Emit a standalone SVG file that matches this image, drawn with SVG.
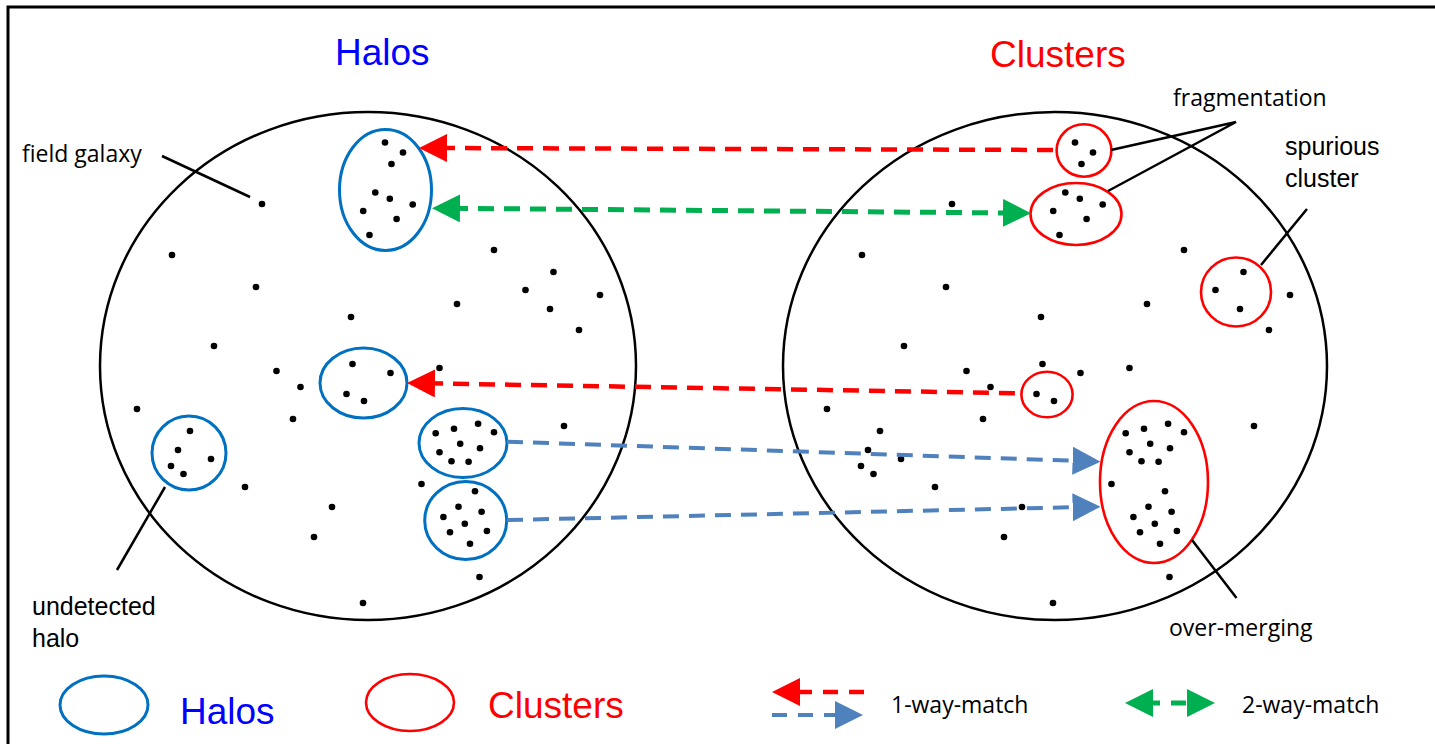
<svg xmlns="http://www.w3.org/2000/svg" xmlns:xlink="http://www.w3.org/1999/xlink" width="1435" height="744" viewBox="0 0 1435 744">
<style>
.frame{stroke:#000;stroke-width:3;fill:none}
.big{fill:none;stroke:#000;stroke-width:2.5}
.halo{fill:none;stroke:#0070C0;stroke-width:3}
.clus{fill:none;stroke:#FF0000;stroke-width:2.6}
.lead{fill:none;stroke:#000;stroke-width:2.5}
.title{font-family:"Liberation Sans",Arial,sans-serif;font-size:37px}
.lab{font-family:"Liberation Sans",Arial,sans-serif;font-size:25px;fill:#000}
.cal{font-family:"Open Sans","Liberation Sans",sans-serif;font-size:23px;fill:#000}
.dr{stroke:#FF0000;stroke-width:4.5;stroke-dasharray:16 10;fill:none}
.dg{stroke:#00B050;stroke-width:5;stroke-dasharray:16 10;fill:none}
.db{stroke:#4F81BD;stroke-width:4;stroke-dasharray:16 10;fill:none}
.ldr{stroke:#FF0000;stroke-width:4.5;stroke-dasharray:15 11;fill:none}
.ldb{stroke:#4F81BD;stroke-width:4;stroke-dasharray:15 11;fill:none}
.ldg{stroke:#00B050;stroke-width:5;stroke-dasharray:15 11;fill:none}
#field circle{r:3.3px}
</style>
<defs>
<marker id="ahR" markerUnits="userSpaceOnUse" markerWidth="28" markerHeight="28" viewBox="0 0 28 28" refX="8" refY="14" orient="auto-start-reverse"><path d="M0,0 L28,14 L0,28 Z" fill="#FF0000"/></marker>
<marker id="ahG" markerUnits="userSpaceOnUse" markerWidth="28" markerHeight="28" viewBox="0 0 28 28" refX="8" refY="14" orient="auto-start-reverse"><path d="M0,0 L28,14 L0,28 Z" fill="#00B050"/></marker>
<marker id="ahB" markerUnits="userSpaceOnUse" markerWidth="28" markerHeight="28" viewBox="0 0 28 28" refX="8" refY="14" orient="auto-start-reverse"><path d="M0,0 L28,14 L0,28 Z" fill="#4F81BD"/></marker>
<g id="field" fill="#000">
<circle cx="262" cy="204" r="3.3"/><circle cx="172" cy="255" r="3.3"/><circle cx="256" cy="287" r="3.3"/><circle cx="351" cy="317" r="3.3"/>
<circle cx="457" cy="304" r="3.3"/><circle cx="494" cy="250" r="3.3"/><circle cx="553.5" cy="272" r="3.3"/><circle cx="525.5" cy="290" r="3.3"/>
<circle cx="550" cy="309" r="3.3"/><circle cx="600" cy="295" r="3.3"/><circle cx="579" cy="330" r="3.3"/><circle cx="214" cy="346" r="3.3"/>
<circle cx="276.5" cy="371" r="3.3"/><circle cx="300.5" cy="387" r="3.3"/><circle cx="439.5" cy="368" r="3.3"/><circle cx="137" cy="409" r="3.3"/>
<circle cx="293" cy="419" r="3.3"/><circle cx="245" cy="487" r="3.3"/><circle cx="332" cy="507" r="3.3"/><circle cx="314" cy="537" r="3.3"/>
<circle cx="421.5" cy="484" r="3.3"/><circle cx="564" cy="426" r="3.3"/><circle cx="479.5" cy="577" r="3.3"/><circle cx="363" cy="603" r="3.3"/>
<circle cx="190" cy="431" r="3.3"/><circle cx="178" cy="450" r="3.3"/><circle cx="211" cy="459" r="3.3"/><circle cx="171" cy="466" r="3.3"/><circle cx="183.5" cy="474" r="3.3"/>
<circle cx="352.5" cy="364" r="3.3"/><circle cx="390.5" cy="373" r="3.3"/><circle cx="346.5" cy="394" r="3.3"/><circle cx="364" cy="401" r="3.3"/>
<circle cx="385" cy="142.5" r="3.3"/><circle cx="403" cy="152.5" r="3.3"/><circle cx="391.5" cy="164" r="3.3"/><circle cx="375.3" cy="192.5" r="3.3"/>
<circle cx="389.8" cy="198.7" r="3.3"/><circle cx="412.7" cy="204.5" r="3.3"/><circle cx="363.2" cy="211" r="3.3"/><circle cx="396.6" cy="219" r="3.3"/><circle cx="369.5" cy="235" r="3.3"/>
<circle cx="435.7" cy="433.3" r="3.3"/><circle cx="454" cy="428.7" r="3.3"/><circle cx="478.1" cy="423.7" r="3.3"/><circle cx="494" cy="432.3" r="3.3"/>
<circle cx="460.2" cy="443.7" r="3.3"/><circle cx="480" cy="448.3" r="3.3"/><circle cx="439.5" cy="452.3" r="3.3"/><circle cx="451.5" cy="461.3" r="3.3"/><circle cx="468.6" cy="461.7" r="3.3"/>
<circle cx="475" cy="491.3" r="3.3"/><circle cx="458.5" cy="506.7" r="3.3"/><circle cx="481.6" cy="511.7" r="3.3"/><circle cx="443.4" cy="517" r="3.3"/>
<circle cx="464.8" cy="523.7" r="3.3"/><circle cx="450" cy="532.3" r="3.3"/><circle cx="486.9" cy="531" r="3.3"/><circle cx="470" cy="543.7" r="3.3"/>
</g>
</defs>
<rect width="1435" height="744" fill="#fff"/>
<path class="frame" d="M8,744 L8,7 L1435,7"/>

<g id="halos-sample">
<ellipse class="big" cx="368" cy="366" rx="268" ry="254"/>
<use xlink:href="#field" href="#field"/>
<text class="title" x="335" y="65" fill="#0000FF">Halos</text>
</g>
<g id="clusters-sample">
<ellipse class="big" cx="1055" cy="366" rx="272" ry="254"/>
<use xlink:href="#field" href="#field" x="690"/>
<text class="title" x="990" y="67" fill="#FF0000">Clusters</text>
</g>

<g id="halo-top"><ellipse class="halo" cx="385.5" cy="190" rx="46" ry="60.5"/></g>
<g id="halo-mid"><ellipse class="halo" cx="363.5" cy="383" rx="43.5" ry="35"/></g>
<g id="halo-undetected"><ellipse class="halo" cx="189" cy="453" rx="37" ry="37"/></g>
<g id="halo-a"><ellipse class="halo" cx="463" cy="443" rx="44" ry="34.5"/></g>
<g id="halo-b"><ellipse class="halo" cx="465.7" cy="520.5" rx="41" ry="39"/></g>

<g id="cluster-frag1"><ellipse class="clus" cx="1084" cy="150.5" rx="27.4" ry="26.2"/></g>
<g id="cluster-frag2"><ellipse class="clus" cx="1076" cy="214" rx="45.5" ry="31"/></g>
<g id="cluster-spurious"><ellipse class="clus" cx="1236" cy="292" rx="35" ry="34.5"/></g>
<g id="cluster-mid"><ellipse class="clus" cx="1047" cy="394.5" rx="25.6" ry="22.8"/></g>
<g id="cluster-merged"><ellipse class="clus" cx="1154" cy="482" rx="54" ry="81"/></g>

<g id="connectors">
<line class="dr" x1="439" y1="148" x2="1057" y2="150" marker-start="url(#ahR)"/>
<line class="dg" x1="452" y1="208.3" x2="1011" y2="213" marker-start="url(#ahG)" marker-end="url(#ahG)"/>
<line class="dr" x1="427" y1="383.3" x2="1021.5" y2="393.3" marker-start="url(#ahR)"/>
<line class="db" x1="507" y1="441.7" x2="1080.6" y2="461" marker-end="url(#ahB)"/>
<line class="db" x1="507" y1="520" x2="1080.6" y2="507.1" marker-end="url(#ahB)"/>
</g>

<g id="annotations">
<line class="lead" x1="162" y1="156" x2="250" y2="197"/>
<text class="cal" x="22" y="162">field galaxy</text>
<line class="lead" x1="165" y1="487" x2="117" y2="570"/>
<text class="lab" x="32" y="615">undetected</text>
<text class="lab" x="32" y="647">halo</text>
<polyline class="lead" points="1111,150 1236,122 1108,191"/>
<text class="cal" x="1173" y="106">fragmentation</text>
<line class="lead" x1="1261" y1="265" x2="1307" y2="209"/>
<text class="lab" x="1285" y="155">spurious</text>
<text class="lab" x="1285" y="187">cluster</text>
<line class="lead" x1="1192" y1="540" x2="1236.5" y2="598"/>
<text class="cal" x="1169" y="636">over-merging</text>
</g>

<g id="legend">
<ellipse class="halo" cx="104" cy="705" rx="44" ry="29"/>
<text class="title" x="180" y="724" fill="#0000FF">Halos</text>
<ellipse class="clus" cx="410" cy="702.5" rx="44" ry="28.5"/>
<text class="title" x="488" y="718" fill="#FF0000">Clusters</text>
<line class="ldr" x1="864" y1="692" x2="792" y2="692" marker-end="url(#ahR)"/>
<line class="ldb" x1="772" y1="715" x2="843" y2="715" marker-end="url(#ahB)"/>
<text class="cal" x="891" y="713">1-way-match</text>
<line class="ldg" x1="1145" y1="703" x2="1195" y2="703" marker-start="url(#ahG)" marker-end="url(#ahG)"/>
<text class="cal" x="1242" y="713">2-way-match</text>
</g>
</svg>
